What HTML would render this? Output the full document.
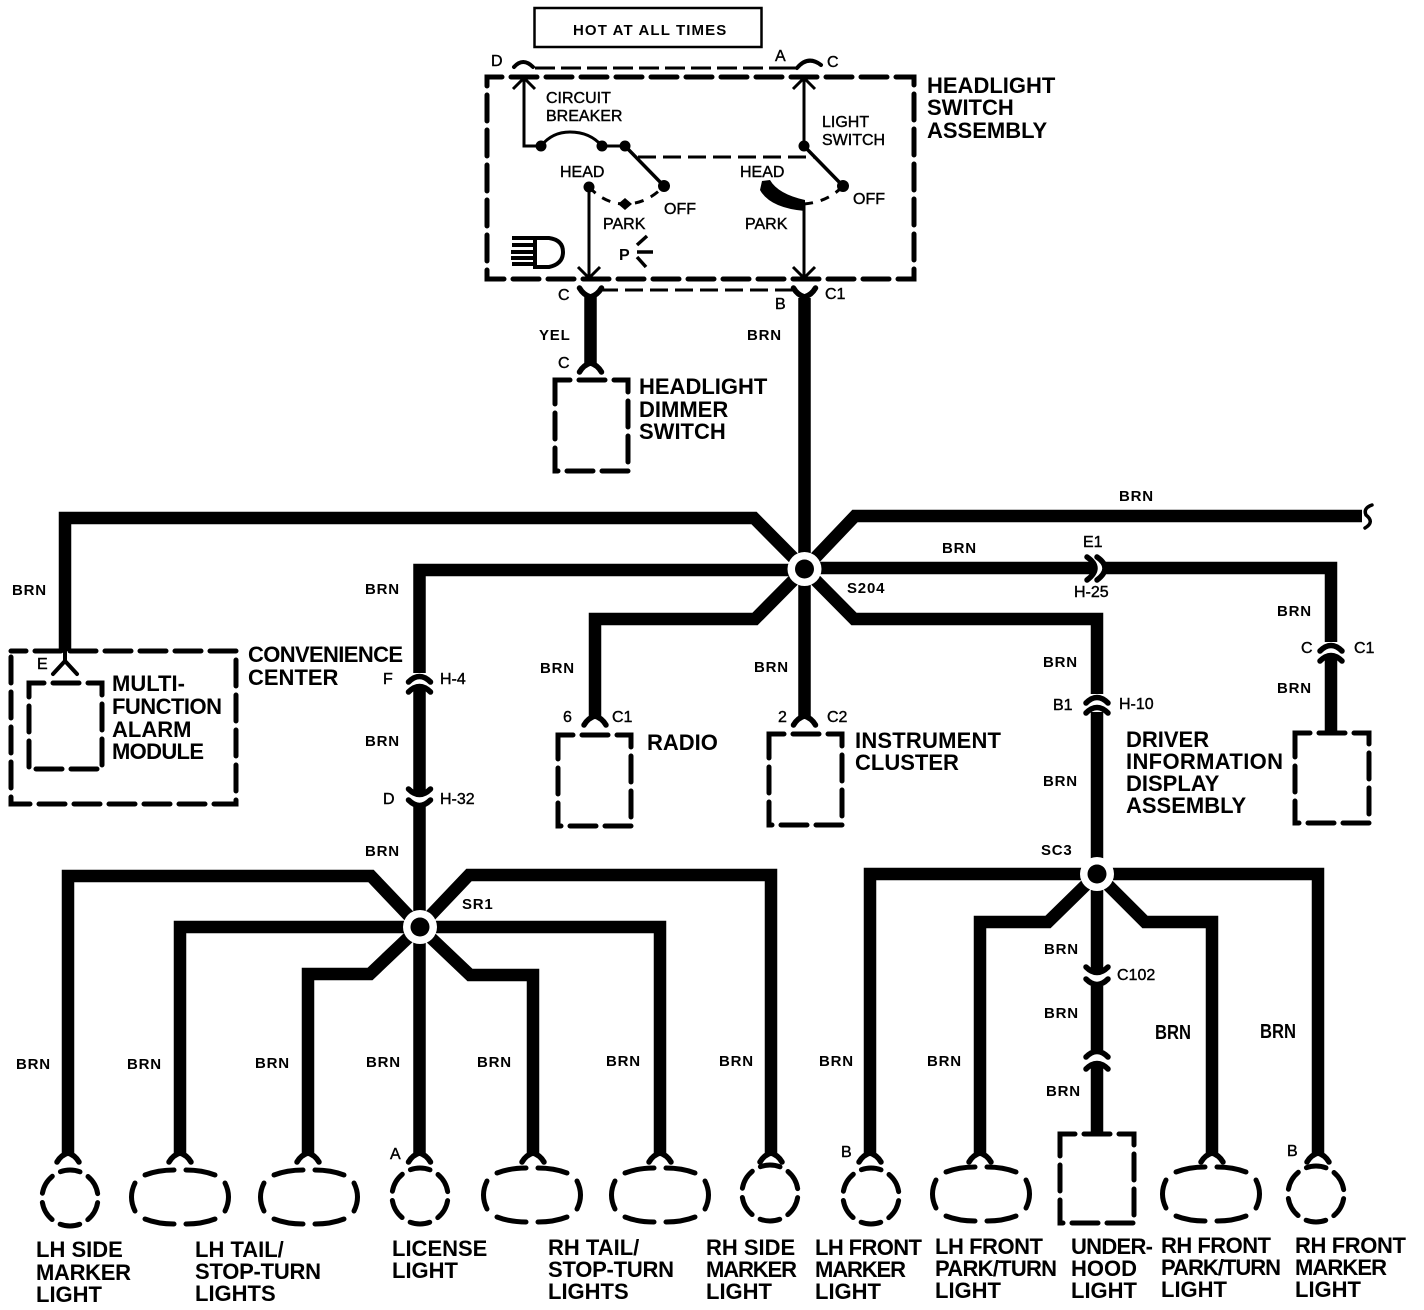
<!DOCTYPE html>
<html><head><meta charset="utf-8"><style>
html,body{margin:0;padding:0;background:#fff}
svg{display:block}
text{font-family:"Liberation Sans",sans-serif;fill:#000}
.b text{font-size:22px;font-weight:bold}
.s text{font-size:15px;font-weight:bold;letter-spacing:.8px}
.m text{font-size:16px;stroke:#000;stroke-width:.4}
.w{fill:none;stroke:#000;stroke-width:12.5;stroke-linejoin:miter}
.d{fill:none;stroke:#000;stroke-width:5;stroke-linecap:round;stroke-dasharray:26 9;stroke-dashoffset:11}
.t{fill:none;stroke:#000;stroke-width:3}
.a{fill:none;stroke:#000;stroke-width:5.5;stroke-linecap:round}
</style></head><body>
<svg width="1424" height="1310" viewBox="0 0 1424 1310" xmlns="http://www.w3.org/2000/svg">
<defs>
<path id="f" class="a" d="M-11,9 Q-7,2 0,0 Q7,2 11,9"/>
<path id="g" class="a" d="M-11,-9 Q-7,-2 0,0 Q7,-2 11,-9"/>
<path id="n" class="a" d="M-11,5 Q0,-6 11,5"/>
<path id="u" class="a" d="M-11,-5 Q0,6 11,-5"/>
<circle id="c" cx="0" cy="0" r="28" fill="none" stroke="#000" stroke-width="5" stroke-linecap="round" stroke-dasharray="20 9.32" stroke-dashoffset="-4.66"/>
<g id="o" fill="none" stroke="#000" stroke-width="5" stroke-linecap="round">
<path d="M-35,-22 Q-22,-27 -6,-27"/><path d="M6,-27 Q22,-27 35,-22"/>
<path d="M45,-14 Q52,0 45,14"/><path d="M-45,-14 Q-52,0 -45,14"/>
<path d="M-35,22 Q-22,27 -6,27"/><path d="M6,27 Q22,27 35,22"/>
</g>
</defs>

<!-- wires -->
<g class="w">
<path d="M804.500,298V568"/>
<path d="M590.500,297V364"/>
<path d="M804.500,569L754,518H65V651"/>
<path d="M804.500,569L855,516H1362"/>
<path d="M804.500,570H419.500V673"/>
<path d="M419.500,688V792"/>
<path d="M419.500,806V927"/>
<path d="M804.500,568H1093"/>
<path d="M1104,568H1331V642"/>
<path d="M1331,658V732"/>
<path d="M804.500,569L755,619H595V717"/>
<path d="M804.500,569V717"/>
<path d="M804.500,569L854,619H1097V694"/>
<path d="M1097,712V874"/>
<path d="M1097,874H870V1154"/>
<path d="M1097,874L1048,922H980V1154"/>
<path d="M1097,874V970"/>
<path d="M1097,986V1050"/>
<path d="M1097,1066V1133"/>
<path d="M1097,874L1145,922H1212V1154"/>
<path d="M1097,874H1318V1154"/>
<path d="M419.500,927L371,876H68V1154"/>
<path d="M419.500,927H180V1154"/>
<path d="M419.500,927L370,974H308V1154"/>
<path d="M419.500,927V1154"/>
<path d="M419.500,927L470,975H533V1154"/>
<path d="M419.500,927H660V1154"/>
<path d="M419.500,927L469,875H771V1154"/>
</g>
<!-- hubs -->
<g><circle cx="804.5" cy="569" r="17" fill="#fff"/><circle cx="804.5" cy="569" r="9.5"/>
<circle cx="1097" cy="874" r="17" fill="#fff"/><circle cx="1097" cy="874" r="9.5"/>
<circle cx="420" cy="927" r="17" fill="#fff"/><circle cx="420" cy="927" r="9.5"/></g>
<path fill="none" stroke="#000" stroke-width="3.5" stroke-linecap="round" d="M1372,505Q1363,508 1366,515Q1375,522 1365,528"/>

<!-- connectors -->
<use href="#g" x="590.500" y="297"/><use href="#g" x="804.500" y="297"/>
<use href="#f" x="590.500" y="363"/>
<use href="#n" x="419.500" y="677"/><use href="#n" x="419.500" y="687"/>
<use href="#u" x="419.500" y="794"/><use href="#u" x="419.500" y="805"/>
<use href="#n" x="1331" y="646"/><use href="#n" x="1331" y="656"/>
<use href="#f" x="595" y="716"/><use href="#f" x="804.500" y="716"/>
<use href="#n" x="1097" y="698"/><use href="#n" x="1097" y="708"/>
<use href="#u" x="1097" y="972"/><use href="#u" x="1097" y="984"/>
<use href="#n" x="1097" y="1052"/><use href="#n" x="1097" y="1064"/>
<path class="a" d="M1087,557Q1103,568 1087,580M1097,557Q1113,568 1097,580"/>

<!-- forks above lights -->
<use href="#f" x="68" y="1153"/><use href="#f" x="180" y="1153"/><use href="#f" x="308" y="1153"/><use href="#f" x="419.500" y="1153"/><use href="#f" x="533" y="1153"/><use href="#f" x="660" y="1153"/><use href="#f" x="771" y="1153"/><use href="#f" x="870" y="1153"/><use href="#f" x="980" y="1153"/><use href="#f" x="1212" y="1153"/><use href="#f" x="1318" y="1153"/>

<!-- lights -->
<use href="#c" x="70" y="1198"/><use href="#o" x="180" y="1197"/><use href="#o" x="309" y="1197"/>
<use href="#c" x="420" y="1196"/><use href="#o" x="532" y="1195"/><use href="#o" x="660" y="1195"/>
<use href="#c" x="770" y="1193"/><use href="#c" x="871" y="1196"/><use href="#o" x="981" y="1194"/>
<use href="#o" x="1211" y="1194"/><use href="#c" x="1316" y="1194"/>

<!-- dashed boxes -->
<rect class="d" x="1060" y="1134" width="74" height="89"/>
<rect class="d" x="555" y="380" width="73" height="91"/>
<rect class="d" x="558" y="735" width="73" height="91"/>
<rect class="d" x="769" y="734" width="73" height="91"/>
<rect class="d" x="1295" y="733" width="74" height="90"/>
<rect class="d" x="11" y="651" width="225" height="153"/>
<rect class="d" x="29" y="683" width="73" height="86"/>
<path fill="none" stroke="#000" stroke-width="4" stroke-linecap="round" d="M53,674L65,661L77,674M65,650V661"/>

<!-- headlight switch -->
<rect x="534.500" y="8" width="227" height="39" fill="none" stroke="#000" stroke-width="2.5"/>
<rect class="d" x="487" y="77" width="427" height="202"/>
<path fill="none" stroke="#000" stroke-width="4" stroke-linecap="round" d="M514,67Q523,57 533,67M797,68Q808,55 821,65"/>
<g class="t">
<path d="M535,68H775" stroke-dasharray="20 6"/>
<path d="M775,68H797"/>
<path d="M524,78V146H541M513,89L524,78L535,89"/>
<path d="M804,78V146M793,89L804,78L815,89"/>
<path d="M541,146Q552,132 570,132Q590,132 602,146H625" />
<path d="M625,146L664,186" stroke-width="3.500"/>
<path d="M804,146L843,186" stroke-width="3.500"/>
<path d="M589,187V278M578,267L589,278L600,267"/>
<path d="M804,205V278M793,267L804,278L815,267"/>
<path d="M638,157H815" stroke-dasharray="18 7"/>
<path d="M589,187Q605,204 625,204Q647,204 664,186" stroke-dasharray="9 8"/>
<path d="M804,204Q828,202 843,186" stroke-dasharray="9 8"/>
<path d="M600,290H796" stroke-dasharray="18 7"/>
<path d="M637,245L647,236M637,252H653M637,257L646,267" stroke-width="3.500"/>
</g>
<circle cx="541" cy="146" r="5.500"/><circle cx="602" cy="146" r="5.500"/><circle cx="625" cy="146" r="5.500"/>
<circle cx="664" cy="186" r="6"/><circle cx="589" cy="187" r="5.500"/><circle cx="804" cy="146" r="5.500"/><circle cx="843" cy="186" r="6"/>
<path d="M618,204L625,198L632,204L625,210Z"/>
<path d="M762,181L770,180Q778,194 805,200L805,211Q770,208 760,190Z"/>
<path d="M535,238H549Q563,240 563,252Q563,264 549,267H535Z" fill="none" stroke="#000" stroke-width="4"/>
<path d="M512,238H533M512,245H533M511,252H533M511,258H533M512,264H533" fill="none" stroke="#000" stroke-width="4"/>

<g class="b">
<text x="927" y="93">HEADLIGHT</text><text x="927" y="115">SWITCH</text><text x="927" y="138">ASSEMBLY</text>
<text x="639" y="394">HEADLIGHT</text><text x="639" y="417">DIMMER</text><text x="639" y="439">SWITCH</text>
<text x="647" y="750">RADIO</text>
<text x="855" y="748" textLength="146">INSTRUMENT</text><text x="855" y="770">CLUSTER</text>
<text x="248" y="662" textLength="155">CONVENIENCE</text><text x="248" y="685">CENTER</text>
<text x="112" y="691">MULTI-</text><text x="112" y="714" textLength="110">FUNCTION</text><text x="112" y="737">ALARM</text><text x="112" y="759" textLength="92">MODULE</text>
<text x="1126" y="747">DRIVER</text><text x="1126" y="769" textLength="157">INFORMATION</text><text x="1126" y="791">DISPLAY</text><text x="1126" y="813">ASSEMBLY</text>
<text x="36" y="1257">LH SIDE</text><text x="36" y="1280" textLength="95">MARKER</text><text x="36" y="1302">LIGHT</text>
<text x="195" y="1257">LH TAIL/</text><text x="195" y="1279" textLength="126">STOP-TURN</text><text x="195" y="1301">LIGHTS</text>
<text x="392" y="1256">LICENSE</text><text x="392" y="1278">LIGHT</text>
<text x="548" y="1255">RH TAIL/</text><text x="548" y="1277" textLength="126">STOP-TURN</text><text x="548" y="1299">LIGHTS</text>
<text x="706" y="1255">RH SIDE</text><text x="706" y="1277" textLength="91">MARKER</text><text x="706" y="1299">LIGHT</text>
<text x="815" y="1255" textLength="107">LH FRONT</text><text x="815" y="1277" textLength="91">MARKER</text><text x="815" y="1299">LIGHT</text>
<text x="935" y="1254" textLength="108">LH FRONT</text><text x="935" y="1276" textLength="122">PARK/TURN</text><text x="935" y="1298">LIGHT</text>
<text x="1071" y="1254" textLength="82">UNDER-</text><text x="1071" y="1276">HOOD</text><text x="1071" y="1298">LIGHT</text>
<text x="1161" y="1253" textLength="110">RH FRONT</text><text x="1161" y="1275" textLength="120">PARK/TURN</text><text x="1161" y="1297">LIGHT</text>
<text x="1295" y="1253" textLength="111">RH FRONT</text><text x="1295" y="1275" textLength="92">MARKER</text><text x="1295" y="1297">LIGHT</text>
</g>

<g class="s">
<text x="573" y="35" textLength="154">HOT AT ALL TIMES</text>
<text x="12" y="595">BRN</text><text x="365" y="594">BRN</text><text x="1119" y="501">BRN</text><text x="942" y="553">BRN</text>
<text x="1277" y="616">BRN</text><text x="1277" y="693">BRN</text><text x="1043" y="667">BRN</text><text x="1043" y="786">BRN</text>
<text x="540" y="673">BRN</text><text x="754" y="672">BRN</text><text x="365" y="746">BRN</text><text x="365" y="856">BRN</text>
<text x="1044" y="954">BRN</text><text x="1044" y="1018">BRN</text><text x="1046" y="1096">BRN</text>
<text x="16" y="1069">BRN</text><text x="127" y="1069">BRN</text><text x="255" y="1068">BRN</text><text x="366" y="1067">BRN</text>
<text x="477" y="1067">BRN</text><text x="606" y="1066">BRN</text><text x="719" y="1066">BRN</text><text x="819" y="1066">BRN</text><text x="927" y="1066">BRN</text>
<text x="539" y="340">YEL</text><text x="747" y="340">BRN</text>
<text x="847" y="593">S204</text><text x="1041" y="855">SC3</text><text x="462" y="909">SR1</text>
</g>
<text x="1155" y="1039" font-size="20" font-weight="bold" textLength="36" lengthAdjust="spacingAndGlyphs">BRN</text>
<text x="1260" y="1038" font-size="20" font-weight="bold" textLength="36" lengthAdjust="spacingAndGlyphs">BRN</text>

<g class="m">
<text x="1083" y="547">E1</text><text x="1074" y="597">H-25</text><text x="1301" y="653">C</text><text x="1354" y="653">C1</text>
<text x="563" y="722">6</text><text x="612" y="722">C1</text><text x="778" y="722">2</text><text x="827" y="722">C2</text>
<text x="383" y="684">F</text><text x="440" y="684">H-4</text><text x="383" y="804">D</text><text x="440" y="804">H-32</text>
<text x="1053" y="710">B1</text><text x="1119" y="709">H-10</text><text x="1117" y="980">C102</text>
<text x="390" y="1159">A</text><text x="841" y="1157">B</text><text x="1287" y="1156">B</text><text x="37" y="669">E</text>
<text x="491" y="66">D</text><text x="775" y="61">A</text><text x="827" y="67">C</text>
<text x="546" y="103">CIRCUIT</text><text x="546" y="121">BREAKER</text>
<text x="822" y="127">LIGHT</text><text x="822" y="145">SWITCH</text>
<text x="560" y="177">HEAD</text><text x="740" y="177">HEAD</text>
<text x="664" y="214">OFF</text><text x="853" y="204">OFF</text>
<text x="603" y="229">PARK</text><text x="745" y="229">PARK</text>
<text x="558" y="300">C</text><text x="775" y="309">B</text><text x="825" y="299">C1</text><text x="558" y="368">C</text>
</g>
<text x="619" y="260" font-size="16" font-weight="bold">P</text>
</svg>
</body></html>
